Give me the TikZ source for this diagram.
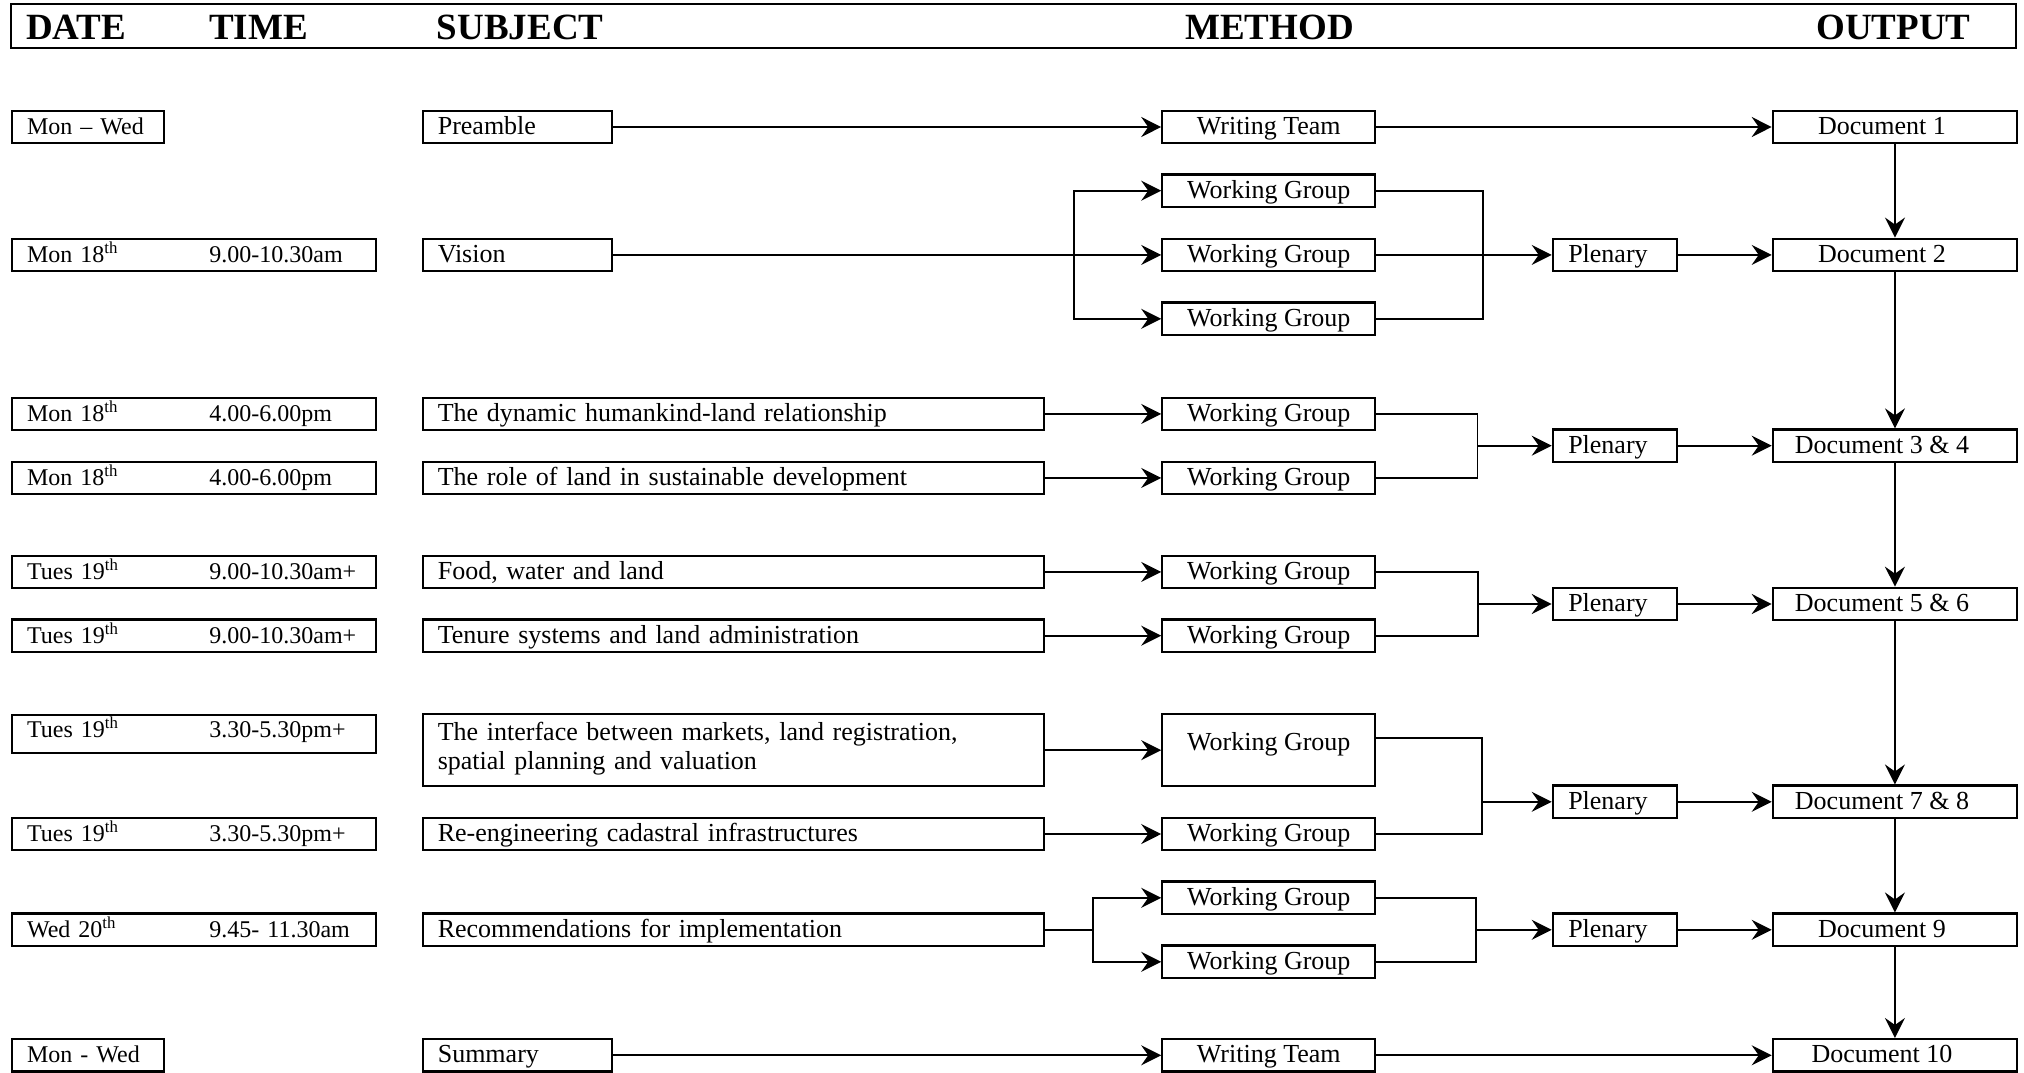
\documentclass[tikz,border=0pt]{standalone}
\usepackage{fontspec}
\setmainfont{Liberation Serif}
\usetikzlibrary{arrows.meta}

\newcommand{\cellfont}{\fontsize{26}{29}\selectfont}
\newcommand{\datefont}{\fontsize{24}{27}\selectfont}
\newcommand{\headfont}{\fontsize{37}{40}\selectfont\bfseries}
% date with superscript, then the time slot
\newcommand{\session}[3]{\makebox[182.3pt][l]{#1\textsuperscript{#2}}#3}

\begin{document}
\begin{tikzpicture}[x=1pt, y=-1pt,
    cell/.style={draw, line width=2.2pt, inner xsep=0pt, inner ysep=0pt,
        text height=19.5pt, text depth=4.5pt, minimum height=32.5pt, font=\cellfont},
    datecell/.style={cell, anchor=west, inner xsep=15.3pt, text width=333.4pt, align=left, font=\datefont},
    shortdate/.style={cell, anchor=west, inner xsep=15.3pt, text width=121.7pt, align=left, font=\datefont},
    subjcell/.style={cell, anchor=west, inner xsep=15pt, text width=591.3pt, align=left},
    shortsubj/.style={cell, anchor=west, inner xsep=15pt, text width=159pt, align=left},
    wgcell/.style={cell, minimum width=213pt},
    plencell/.style={cell, anchor=west, minimum width=124.3pt, execute at end node={\hspace*{14pt}}},
    doccell/.style={cell, anchor=west, minimum width=244.3pt, execute at end node={\hspace*{26pt}}},
    colhead/.style={anchor=base west, inner sep=0pt, font=\headfont},
    wire/.style={line width=1.7pt},
    conn/.style={wire, -{Stealth[length=20pt, width=20pt, inset=7pt]}}
]
    \useasboundingbox (0,0) rectangle (2024,1072);
    \def\colDate{10.7}
    \def\colSubj{421.7}
    \def\colMeth{1268.8}
    \def\colPlen{1551.7}
    \def\colOut{1771.7}

    % Header
    \draw[line width=2.2pt] (10.7,4) rectangle (2016,48.3);
    \node[colhead] (hdate) at (26,39.3) {DATE};
    \node[colhead] (htime) at (209,39.3) {TIME};
    \node[colhead] (hsubj) at (436.7,39.3) {SUBJECT};
    \node[colhead] (hmeth) at (1185,39.3) {METHOD};
    \node[colhead] (hout) at (1816,39.3) {OUTPUT};

    % Preamble -> writing team
    \node[shortdate] (d1) at (\colDate,127) {Mon – Wed};
    \node[shortsubj] (s1) at (\colSubj,127) {Preamble};
    \node[wgcell] (m1) at (\colMeth,127) {Writing Team};
    \node[doccell] (o1) at (\colOut,127) {Document 1};
    \draw[conn] (s1) -- (m1);
    \draw[conn] (m1) -- (o1);

    % Vision: three working groups
    \node[datecell] (d2) at (\colDate,254.9) {\session{Mon 18}{th}{9.00-10.30am}};
    \node[shortsubj] (s2) at (\colSubj,254.9) {Vision};
    \node[wgcell] (m2a) at (\colMeth,190.7) {Working Group};
    \node[wgcell] (m2b) at (\colMeth,254.9) {Working Group};
    \node[wgcell] (m2c) at (\colMeth,318.8) {Working Group};
    \node[plencell] (p2) at (\colPlen,254.9) {Plenary};
    \node[doccell] (o2) at (\colOut,254.9) {Document 2};
    \coordinate (split2) at (1073.8,254.9);
    \coordinate (join2) at (1483.3,254.9);
    \draw[conn] (s2) -- (m2b);
    \draw[conn] (split2) |- (m2a.west);
    \draw[conn] (split2) |- (m2c.west);
    \draw[wire] (m2a.east) -| (join2) |- (m2c.east);
    \draw[conn] (m2b) -- (p2);
    \draw[conn] (p2) -- (o2);

    % Group 1: Mon 18th afternoon
    \node[datecell] (d3) at (\colDate,413.9) {\session{Mon 18}{th}{4.00-6.00pm}};
    \node[subjcell] (s3) at (\colSubj,413.9) {The dynamic humankind-land relationship};
    \node[wgcell] (m3) at (\colMeth,413.9) {Working Group};
    \node[datecell] (d4) at (\colDate,477.9) {\session{Mon 18}{th}{4.00-6.00pm}};
    \node[subjcell] (s4) at (\colSubj,477.9) {The role of land in sustainable development};
    \node[wgcell] (m4) at (\colMeth,477.9) {Working Group};
    \node[plencell] (p3) at (\colPlen,445.7) {Plenary};
    \node[doccell] (o3) at (\colOut,445.7) {Document 3 \& 4};
    \coordinate (join3) at (1477.5,445.7);
    \draw[conn] (s3) -- (m3);
    \draw[conn] (s4) -- (m4);
    \draw[wire] (m3.east) -| (join3) |- (m4.east);
    \draw[conn] (join3) -- (p3);
    \draw[conn] (p3) -- (o3);

    % Group 2: Tues 19th morning
    \node[datecell] (d5) at (\colDate,571.9) {\session{Tues 19}{th}{9.00-10.30am+}};
    \node[subjcell] (s5) at (\colSubj,571.9) {Food, water and land};
    \node[wgcell] (m5) at (\colMeth,571.9) {Working Group};
    \node[datecell] (d6) at (\colDate,635.7) {\session{Tues 19}{th}{9.00-10.30am+}};
    \node[subjcell] (s6) at (\colSubj,635.7) {Tenure systems and land administration};
    \node[wgcell] (m6) at (\colMeth,635.7) {Working Group};
    \node[plencell] (p5) at (\colPlen,604) {Plenary};
    \node[doccell] (o5) at (\colOut,604) {Document 5 \& 6};
    \coordinate (join5) at (1478,604);
    \draw[conn] (s5) -- (m5);
    \draw[conn] (s6) -- (m6);
    \draw[wire] (m5.east) -| (join5) |- (m6.east);
    \draw[conn] (join5) -- (p5);
    \draw[conn] (p5) -- (o5);

    % Group 3: Tues 19th afternoon
    \node[datecell, minimum height=38.3pt, text depth=12pt] (d7) at (\colDate,733.85) {\session{Tues 19}{th}{3.30-5.30pm+}};
    \node[subjcell, minimum height=71.7pt, text depth=39pt] (s7) at (\colSubj,750.15)
        {The interface between markets, land registration,\\spatial planning and valuation};
    \node[wgcell, minimum height=71.7pt, text height=36.5pt, text depth=35.2pt] (m7) at (\colMeth,750.15) {Working Group};
    \node[datecell] (d8) at (\colDate,834) {\session{Tues 19}{th}{3.30-5.30pm+}};
    \node[subjcell] (s8) at (\colSubj,834) {Re-engineering cadastral infrastructures};
    \node[wgcell] (m8) at (\colMeth,834) {Working Group};
    \node[plencell] (p7) at (\colPlen,801.8) {Plenary};
    \node[doccell] (o7) at (\colOut,801.8) {Document 7 \& 8};
    \coordinate (join7) at (1481.7,801.8);
    \draw[conn] (s7) -- (m7);
    \draw[conn] (s8) -- (m8);
    \draw[wire] ([yshift=-25pt]m7.north east) -| (join7) |- (m8.east);
    \draw[conn] (join7) -- (p7);
    \draw[conn] (p7) -- (o7);

    % Wed 20th: recommendations, two working groups
    \node[datecell] (d9) at (\colDate,929.8) {\session{Wed 20}{th}{9.45- 11.30am}};
    \node[subjcell] (s9) at (\colSubj,929.8) {Recommendations for implementation};
    \node[wgcell] (m9a) at (\colMeth,897.8) {Working Group};
    \node[wgcell] (m9b) at (\colMeth,961.8) {Working Group};
    \node[plencell] (p9) at (\colPlen,929.8) {Plenary};
    \node[doccell] (o9) at (\colOut,929.8) {Document 9};
    \coordinate (split9) at (1092.7,929.8);
    \coordinate (join9) at (1476,929.8);
    \draw[wire] (s9) -- (split9);
    \draw[conn] (split9) |- (m9a.west);
    \draw[conn] (split9) |- (m9b.west);
    \draw[wire] (m9a.east) -| (join9) |- (m9b.east);
    \draw[conn] (join9) -- (p9);
    \draw[conn] (p9) -- (o9);

    % Summary -> writing team
    \node[shortdate] (d10) at (\colDate,1055.3) {Mon - Wed};
    \node[shortsubj] (s10) at (\colSubj,1055.3) {Summary};
    \node[wgcell] (m10) at (\colMeth,1055.3) {Writing Team};
    \node[doccell] (o10) at (\colOut,1055.3) {Document 10};
    \draw[conn] (s10) -- (m10);
    \draw[conn] (m10) -- (o10);

    % Output chain
    \foreach \a/\b in {o1/o2, o2/o3, o3/o5, o5/o7, o7/o9, o9/o10} {
        \draw[conn] (\a) -- (\b);
    }
\end{tikzpicture}
\end{document}
